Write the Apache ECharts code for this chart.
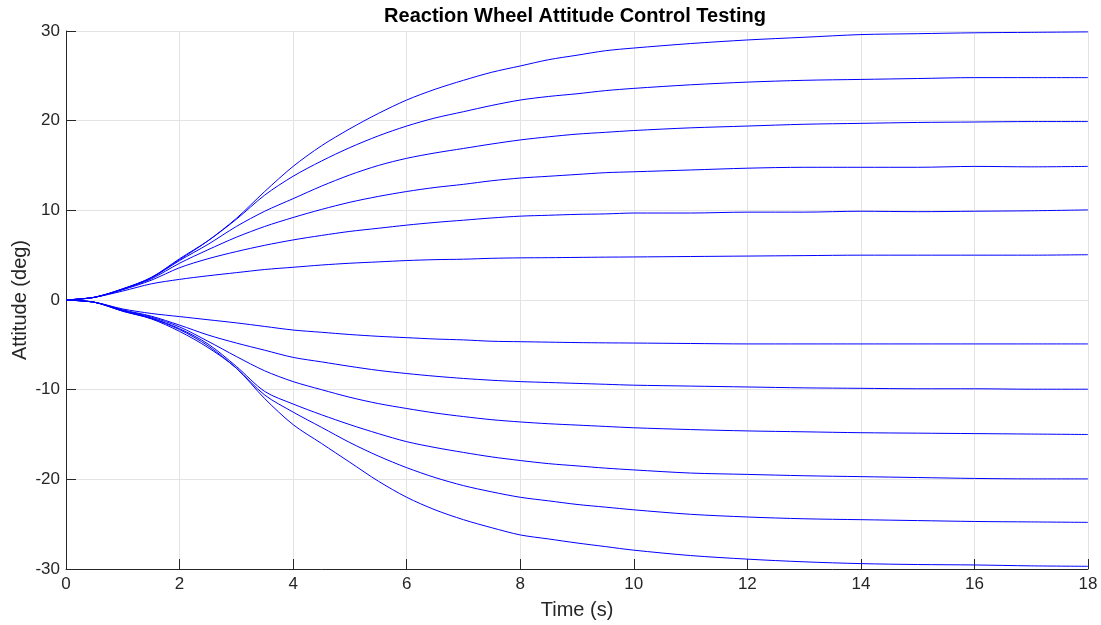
<!DOCTYPE html>
<html>
<head>
<meta charset="utf-8">
<script src="https://cdn.jsdelivr.net/npm/echarts@6/dist/echarts.min.js"></script>
<style>
html,body{margin:0;padding:0;background:#fff;}
#chart{width:1101px;height:625px;}
</style>
</head>
<body>
<div id="chart"></div>
<script>
const timeS = [0,0.5,1,1.5,2,2.5,3,3.5,4,4.5,5,5.5,6,6.5,7,7.5,8,8.5,9,9.5,10,11,12,13,14,15,16,17,18];

const pos30 = [0,0.3,1.2,2.5,4.5,6.6,9.1,12.1,14.9,17.2,19.1,20.8,22.3,23.5,24.5,25.4,26.1,26.8,27.3,27.8,28.1,28.6,29.0,29.3,29.6,29.7,29.8,29.85,29.9];
const pos25 = [0,0.3,1.25,2.5,4.6,6.6,9.0,11.7,13.8,15.5,17.0,18.3,19.4,20.3,21.0,21.7,22.3,22.7,23.0,23.35,23.6,24.0,24.3,24.5,24.6,24.7,24.8,24.8,24.8];
const pos20 = [0,0.3,1.25,2.45,4.4,6.2,8.2,9.9,11.3,12.7,13.95,15.0,15.8,16.4,16.9,17.4,17.85,18.2,18.5,18.7,18.9,19.2,19.4,19.6,19.7,19.8,19.85,19.9,19.9];
const pos15 = [0,0.3,1.2,2.35,4.1,5.6,7.0,8.2,9.2,10.1,10.9,11.55,12.1,12.55,12.9,13.3,13.6,13.8,14.0,14.2,14.3,14.5,14.7,14.8,14.8,14.8,14.9,14.85,14.9];
const pos10 = [0,0.3,1.15,2.2,3.6,4.6,5.4,6.1,6.7,7.2,7.65,8.0,8.35,8.65,8.9,9.15,9.35,9.45,9.55,9.6,9.7,9.7,9.8,9.8,9.9,9.85,9.9,9.95,10.05];
const pos5  = [0,0.3,1.0,1.8,2.3,2.7,3.05,3.4,3.65,3.9,4.1,4.25,4.4,4.5,4.55,4.65,4.7,4.72,4.75,4.78,4.8,4.85,4.9,4.95,5.0,5.0,5.0,5.0,5.05];

const neg5  = [0,-0.25,-1.0,-1.5,-1.85,-2.2,-2.55,-2.95,-3.35,-3.6,-3.85,-4.05,-4.2,-4.35,-4.45,-4.6,-4.65,-4.7,-4.75,-4.78,-4.8,-4.85,-4.9,-4.9,-4.9,-4.9,-4.9,-4.9,-4.9];
const neg10 = [0,-0.25,-1.1,-1.8,-2.8,-3.9,-4.8,-5.6,-6.4,-6.9,-7.4,-7.85,-8.2,-8.5,-8.75,-8.95,-9.1,-9.2,-9.3,-9.4,-9.5,-9.6,-9.7,-9.8,-9.85,-9.9,-9.9,-9.95,-9.95];
const neg15 = [0,-0.25,-1.15,-1.9,-3.0,-4.6,-6.3,-7.9,-9.1,-10.0,-10.85,-11.55,-12.1,-12.6,-13.0,-13.35,-13.6,-13.8,-13.95,-14.1,-14.25,-14.45,-14.6,-14.7,-14.8,-14.85,-14.9,-14.95,-15.0];
const neg20 = [0,-0.25,-1.2,-2.0,-3.2,-4.9,-7.4,-10.2,-11.6,-12.8,-13.9,-14.9,-15.8,-16.45,-17.0,-17.5,-17.9,-18.25,-18.5,-18.75,-18.95,-19.3,-19.45,-19.6,-19.7,-19.8,-19.9,-19.95,-19.95];
const neg25 = [0,-0.25,-1.25,-2.05,-3.3,-5.1,-7.6,-10.6,-12.5,-14.2,-15.9,-17.4,-18.7,-19.8,-20.7,-21.4,-22.0,-22.4,-22.8,-23.1,-23.4,-23.9,-24.2,-24.4,-24.5,-24.6,-24.7,-24.75,-24.8];
const neg30 = [0,-0.25,-1.25,-2.1,-3.5,-5.3,-7.6,-11.0,-13.9,-16.0,-18.1,-20.2,-22.0,-23.4,-24.5,-25.4,-26.2,-26.65,-27.1,-27.5,-27.9,-28.5,-28.9,-29.2,-29.4,-29.5,-29.55,-29.65,-29.7];

const allSeries = [pos30,pos25,pos20,pos15,pos10,pos5,neg5,neg10,neg15,neg20,neg25,neg30];

const chart = echarts.init(document.getElementById('chart'));
const textColor = '#262626';
const fontFam = '"Liberation Sans", Arial, Helvetica, sans-serif';

chart.setOption({
  animation: false,
  backgroundColor: '#ffffff',
  title: {
    text: 'Reaction Wheel Attitude Control Testing',
    left: 570, top: 1, textAlign: 'center',
    textStyle: {fontFamily: fontFam, fontWeight: 'bold', fontSize: 20, color: '#000'}
  },
  grid: {left: 66, right: 13, top: 31, bottom: 56, containLabel: false, outerBoundsMode: 'none'},
  xAxis: {
    type: 'value', min: 0, max: 18, interval: 2,
    name: 'Time (s)', nameLocation: 'middle', nameGap: 31,
    nameTextStyle: {fontFamily: fontFam, fontSize: 20, color: textColor},
    axisLine: {show: true, onZero: false, lineStyle: {color: textColor, width: 1}},
    axisTick: {show: true, inside: true, length: 10, lineStyle: {color: textColor}},
    axisLabel: {fontFamily: fontFam, fontSize: 17, color: textColor, margin: 7},
    splitLine: {show: true, lineStyle: {color: '#e3e3e3', width: 1}}
  },
  yAxis: {
    type: 'value', min: -30, max: 30, interval: 10,
    name: 'Attitude (deg)', nameLocation: 'middle', nameGap: 36, nameRotate: 90,
    nameMoveOverlap: false,
    nameTextStyle: {fontFamily: fontFam, fontSize: 20, color: textColor},
    axisLine: {show: true, onZero: false, lineStyle: {color: textColor, width: 1}},
    axisTick: {show: true, inside: true, length: 10, lineStyle: {color: textColor}},
    axisLabel: {fontFamily: fontFam, fontSize: 17, color: textColor, margin: 6},
    splitLine: {show: true, lineStyle: {color: '#e3e3e3', width: 1}}
  },
  series: allSeries.map(arr => ({
    type: 'line',
    data: timeS.map((t, i) => [t, arr[i]]),
    showSymbol: false,
    smooth: 0.3,
    lineStyle: {color: '#0000ff', width: 1},
    emphasis: {disabled: true}
  }))
});
</script>
</body>
</html>
